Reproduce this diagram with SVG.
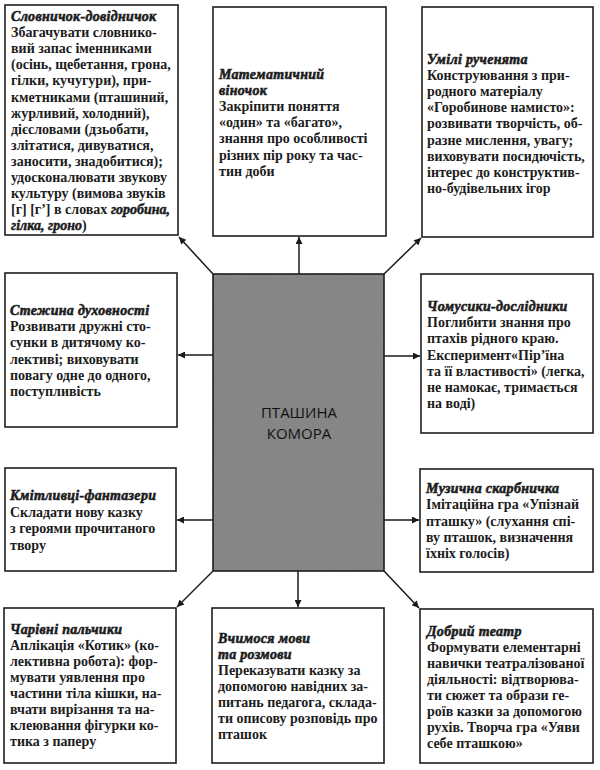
<svg xmlns="http://www.w3.org/2000/svg" width="600" height="770" viewBox="0 0 600 770">
<style>
  .box { fill: #ffffff; stroke: #1e1e1e; stroke-width: 1.6; }
  .t { font-family: "Liberation Serif", "Times New Roman", serif; font-size: 14px; font-weight: bold; fill: #1c1c1c; }
  .h { font-style: italic; font-weight: bold; letter-spacing: 0.3px; stroke: #1c1c1c; stroke-width: 0.55px; }
  .i { font-style: italic; font-weight: bold; stroke: #1c1c1c; stroke-width: 0.45px; }
  .c { font-family: "Open Sans", "Liberation Sans", sans-serif; font-size: 15px; fill: #111; }
  .ln { stroke: #1a1a1a; stroke-width: 1.5; fill: none; marker-end: url(#ah); }
</style>
<defs>
  <marker id="ah" viewBox="0 0 10 10" refX="10" refY="5" markerWidth="9" markerHeight="7" markerUnits="userSpaceOnUse" orient="auto">
    <path d="M0,0 L10,5 L0,10 Z" fill="#1a1a1a"/>
  </marker>
  <filter id="noise" x="0" y="0" width="100%" height="100%">
    <feTurbulence type="fractalNoise" baseFrequency="0.9" numOctaves="2" seed="3" result="n"/>
    <feColorMatrix in="n" type="matrix" values="0 0 0 0 0.3  0 0 0 0 0.3  0 0 0 0 0.3  0 0 0 0.6 0" result="g"/>
    <feComposite in="g" in2="SourceGraphic" operator="atop"/>
  </filter>
</defs>
<rect width="600" height="770" fill="#ffffff"/>

<g id="connectors">
  <line class="ln" x1="299" y1="274" x2="299" y2="237"/>
  <line class="ln" x1="213" y1="274" x2="179" y2="237"/>
  <line class="ln" x1="384" y1="274" x2="421" y2="238"/>
  <line class="ln" x1="213" y1="355" x2="178" y2="355"/>
  <line class="ln" x1="384" y1="356" x2="420" y2="356"/>
  <line class="ln" x1="213" y1="520" x2="177" y2="520"/>
  <line class="ln" x1="384" y1="520" x2="419" y2="520"/>
  <line class="ln" x1="298" y1="571" x2="298" y2="607"/>
  <line class="ln" x1="213" y1="571" x2="177" y2="607"/>
  <line class="ln" x1="384" y1="571" x2="419" y2="608"/>
</g>

<g id="center">
  <rect x="213" y="274" width="171" height="297" fill="#7f7f7f" stroke="#1e1e1e" stroke-width="1.6"/>
  <rect x="214" y="275" width="169" height="295" fill="#7f7f7f" filter="url(#noise)"/>
  <text class="c" x="299" y="418" text-anchor="middle">ПТАШИНА</text>
  <text class="c" x="299" y="439" text-anchor="middle">КОМОРА</text>
</g>

<g id="slovnychok">
  <rect class="box" x="5" y="5" width="173" height="230"/>
  <text class="t">
    <tspan class="h" x="11" y="21">Словничок-довідничок</tspan>
    <tspan x="11" y="37.1">Збагачувати словнико-</tspan>
    <tspan x="11" y="53.2">вий запас іменниками</tspan>
    <tspan x="11" y="69.3">(осінь, щебетання, грона,</tspan>
    <tspan x="11" y="85.4">гілки, кучугури), при-</tspan>
    <tspan x="11" y="101.5">кметниками (пташиний,</tspan>
    <tspan x="11" y="117.6">журливий, холодний),</tspan>
    <tspan x="11" y="133.7">дієсловами (дзьобати,</tspan>
    <tspan x="11" y="149.8">злітатися, дивуватися,</tspan>
    <tspan x="11" y="165.9">заносити, знадобитися);</tspan>
    <tspan x="11" y="182">удосконалювати звукову</tspan>
    <tspan x="11" y="198.1">культуру (вимова звуків</tspan>
    <tspan x="11" y="214.2">[г] [г’] в словах <tspan class="i">горобина,</tspan></tspan>
    <tspan x="11" y="230.3"><tspan class="i">гілка, гроно</tspan>)</tspan>
  </text>
</g>

<g id="matematychnyi">
  <rect class="box" x="213" y="7" width="173" height="229"/>
  <text class="t">
    <tspan class="h" x="219" y="79">Математичний</tspan>
    <tspan class="h" x="219" y="95.1">віночок</tspan>
    <tspan x="219" y="111.2">Закріпити поняття</tspan>
    <tspan x="219" y="127.3">«один» та «багато»,</tspan>
    <tspan x="219" y="143.4">знання про особливості</tspan>
    <tspan x="219" y="159.5">різних пір року та час-</tspan>
    <tspan x="219" y="175.6">тин доби</tspan>
  </text>
</g>

<g id="umili">
  <rect class="box" x="422" y="7" width="171" height="230"/>
  <text class="t">
    <tspan class="h" x="427" y="64">Умілі рученята</tspan>
    <tspan x="427" y="80.1">Конструювання з при-</tspan>
    <tspan x="427" y="96.2">родного матеріалу</tspan>
    <tspan x="427" y="112.3">«Горобинове намисто»:</tspan>
    <tspan x="427" y="128.4">розвивати творчість, об-</tspan>
    <tspan x="427" y="144.5">разне мислення, увагу;</tspan>
    <tspan x="427" y="160.6">виховувати посидючість,</tspan>
    <tspan x="427" y="176.7">інтерес до конструктив-</tspan>
    <tspan x="427" y="192.8">но-будівельних ігор</tspan>
  </text>
</g>

<g id="stezhyna">
  <rect class="box" x="5" y="273" width="172" height="154"/>
  <text class="t">
    <tspan class="h" x="10" y="315">Стежина духовності</tspan>
    <tspan x="10" y="331.2">Розвивати дружні сто-</tspan>
    <tspan x="10" y="347.4">сунки в дитячому ко-</tspan>
    <tspan x="10" y="363.6">лективі; виховувати</tspan>
    <tspan x="10" y="379.8">повагу одне до одного,</tspan>
    <tspan x="10" y="396">поступливість</tspan>
  </text>
</g>

<g id="chomusyky">
  <rect class="box" x="421" y="274" width="172" height="159"/>
  <text class="t">
    <tspan class="h" x="427" y="311">Чомусики-дослідники</tspan>
    <tspan x="427" y="327.2">Поглибити знання про</tspan>
    <tspan x="427" y="343.4">птахів рідного краю.</tspan>
    <tspan x="427" y="359.6">Експеримент«Пір’їна</tspan>
    <tspan x="427" y="375.8">та її властивості» (легка,</tspan>
    <tspan x="427" y="392">не намокає, тримається</tspan>
    <tspan x="427" y="408.2">на воді)</tspan>
  </text>
</g>

<g id="kmitlyvtsi">
  <rect class="box" x="5" y="468" width="171" height="103"/>
  <text class="t">
    <tspan class="h" x="10" y="500">Кмітливці-фантазери</tspan>
    <tspan x="10" y="516.5">Складати нову казку</tspan>
    <tspan x="10" y="533">з героями прочитаного</tspan>
    <tspan x="10" y="549.5">твору</tspan>
  </text>
</g>

<g id="muzychna">
  <rect class="box" x="420" y="469" width="173" height="103"/>
  <text class="t">
    <tspan class="h" x="426" y="493">Музична скарбничка</tspan>
    <tspan x="426" y="509.3">Імітаційна гра «Упізнай</tspan>
    <tspan x="426" y="525.6">пташку» (слухання спі-</tspan>
    <tspan x="426" y="541.9">ву пташок, визначення</tspan>
    <tspan x="426" y="558.2">їхніх голосів)</tspan>
  </text>
</g>

<g id="charivni">
  <rect class="box" x="4" y="608" width="172" height="155"/>
  <text class="t">
    <tspan class="h" x="10" y="634">Чарівні пальчики</tspan>
    <tspan x="10" y="650">Аплікація «Котик» (ко-</tspan>
    <tspan x="10" y="666">лективна робота): фор-</tspan>
    <tspan x="10" y="682">мувати уявлення про</tspan>
    <tspan x="10" y="698">частини тіла кішки, на-</tspan>
    <tspan x="10" y="714">вчати вирізання та на-</tspan>
    <tspan x="10" y="730">клеювання фігурки ко-</tspan>
    <tspan x="10" y="746">тика з паперу</tspan>
  </text>
</g>

<g id="vchymosia">
  <rect class="box" x="212" y="608" width="172" height="155"/>
  <text class="t">
    <tspan class="h" x="218" y="643">Вчимося мови</tspan>
    <tspan class="h" x="218" y="659">та розмови</tspan>
    <tspan x="218" y="675">Переказувати казку за</tspan>
    <tspan x="218" y="691">допомогою навідних за-</tspan>
    <tspan x="218" y="707">питань педагога, склада-</tspan>
    <tspan x="218" y="723">ти описову розповідь про</tspan>
    <tspan x="218" y="739">пташок</tspan>
  </text>
</g>

<g id="dobryi">
  <rect class="box" x="420" y="609" width="173" height="154"/>
  <text class="t">
    <tspan class="h" x="427" y="636">Добрий театр</tspan>
    <tspan x="427" y="652">Формувати елементарні</tspan>
    <tspan x="427" y="668">навички театралізованої</tspan>
    <tspan x="427" y="684">діяльності: відтворюва-</tspan>
    <tspan x="427" y="700">ти сюжет та образи ге-</tspan>
    <tspan x="427" y="716">роїв казки за допомогою</tspan>
    <tspan x="427" y="732">рухів. Творча гра «Уяви</tspan>
    <tspan x="427" y="748">себе пташкою»</tspan>
  </text>
</g>
</svg>
